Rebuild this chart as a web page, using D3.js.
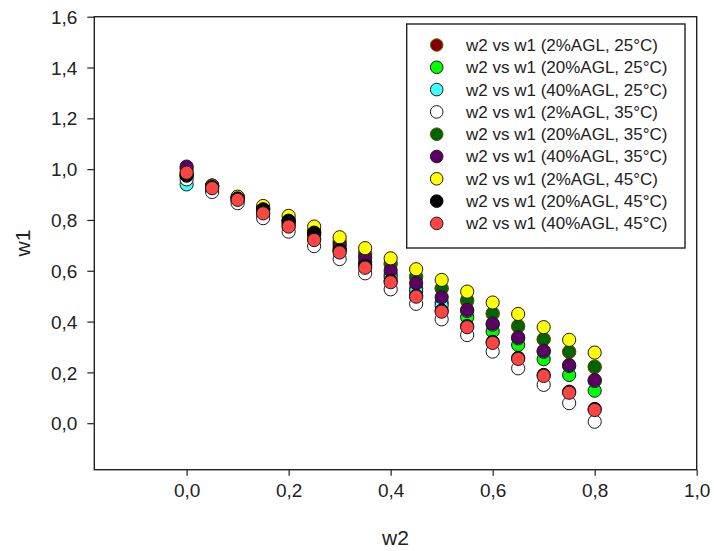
<!DOCTYPE html>
<html>
<head>
<meta charset="utf-8">
<script src="https://cdn.jsdelivr.net/npm/d3@7"></script>
<style>
  html, body { margin: 0; padding: 0; background: #fff; }
  svg { display: block; font-family: "Liberation Sans", Arial, sans-serif; }
</style>
</head>
<body>
<svg id="chart" width="714" height="551"></svg>
<script>
// w2 values shared by every series
const w2 = [0, 0.05, 0.10, 0.15, 0.20, 0.25, 0.30, 0.35, 0.40, 0.45, 0.50, 0.55, 0.60, 0.65, 0.70, 0.75, 0.80];

// w1 values per series
const agl2_25  = [1.000, 0.935, 0.890, 0.845, 0.795, 0.750, 0.710, 0.665, 0.625, 0.575, 0.530, 0.480, 0.430, 0.380, 0.330, 0.280, 0.220];
const agl20_25 = [0.975, 0.930, 0.882, 0.835, 0.785, 0.740, 0.690, 0.635, 0.585, 0.530, 0.475, 0.417, 0.362, 0.308, 0.252, 0.190, 0.128];
const agl40_25 = [0.940, 0.920, 0.875, 0.825, 0.775, 0.725, 0.680, 0.625, 0.575, 0.520, 0.463, 0.442, 0.388, 0.334, 0.281, 0.225, 0.166];
const agl2_35  = [0.960, 0.910, 0.866, 0.807, 0.754, 0.697, 0.646, 0.590, 0.527, 0.470, 0.409, 0.347, 0.282, 0.216, 0.151, 0.079, 0.006];
const agl20_35 = [0.985, 0.935, 0.890, 0.845, 0.800, 0.755, 0.715, 0.670, 0.630, 0.577, 0.531, 0.485, 0.433, 0.383, 0.331, 0.282, 0.223];
const agl40_35 = [1.010, 0.935, 0.888, 0.840, 0.790, 0.745, 0.702, 0.652, 0.601, 0.551, 0.496, 0.446, 0.392, 0.338, 0.285, 0.229, 0.170];
const agl2_45  = [0.975, 0.935, 0.892, 0.855, 0.816, 0.774, 0.732, 0.689, 0.649, 0.606, 0.564, 0.518, 0.475, 0.430, 0.378, 0.328, 0.278];
const agl20_45 = [0.975, 0.930, 0.885, 0.842, 0.797, 0.750, 0.680, 0.620, 0.560, 0.502, 0.443, 0.382, 0.320, 0.257, 0.190, 0.124, 0.056];
const agl40_45 = [0.986, 0.925, 0.879, 0.826, 0.774, 0.721, 0.672, 0.612, 0.555, 0.498, 0.439, 0.378, 0.316, 0.253, 0.186, 0.120, 0.052];

const seriesNames = [
  "w2 vs w1 (2%AGL, 25°C)",
  "w2 vs w1 (20%AGL, 25°C)",
  "w2 vs w1 (40%AGL, 25°C)",
  "w2 vs w1 (2%AGL, 35°C)",
  "w2 vs w1 (20%AGL, 35°C)",
  "w2 vs w1 (40%AGL, 35°C)",
  "w2 vs w1 (2%AGL, 45°C)",
  "w2 vs w1 (20%AGL, 45°C)",
  "w2 vs w1 (40%AGL, 45°C)"
];
const seriesValues = [agl2_25, agl20_25, agl40_25, agl2_35, agl20_35, agl40_35, agl2_45, agl20_45, agl40_45];
const fillColors   = ["#800000", "#00ff00", "#40ffff", "#ffffff", "#006400", "#5c0066", "#ffff00", "#000000", "#ff4444"];
const strokeColors = ["#7a6a00", "#1a1a1a", "#1a1a1a", "#1a1a1a", "#5a5000", "#1a1a1a", "#1a1a1a", "#000000", "#1a1a1a"];

const xTicks = [0, 0.2, 0.4, 0.6, 0.8, 1.0];
const yTicks = [0, 0.2, 0.4, 0.6, 0.8, 1.0, 1.2, 1.4, 1.6];

const svg = d3.select("#chart");
const plotLeft = 94.3, plotRight = 696.7, plotTop = 16.7, plotBottom = 469.7;

const x = d3.scaleLinear().domain([-0.181, 1.0]).range([plotLeft, plotRight]);
const y = d3.scaleLinear().domain([-0.183, 1.6]).range([plotBottom, plotTop]);
const fmt = d => d3.format(".1f")(d).replace(".", ",");

// x axis
const gx = svg.append("g")
  .attr("transform", `translate(0,${plotBottom})`)
  .call(d3.axisBottom(x).tickValues(xTicks).tickFormat(fmt).tickSize(6).tickSizeOuter(0));
gx.select(".domain").remove();
gx.selectAll(".tick line").attr("stroke", "#222").attr("stroke-width", 1.2);
gx.selectAll(".tick text")
  .attr("y", 14).attr("dy", "0.71em")
  .attr("font-size", 19).attr("fill", "#222")
  .attr("font-family", "Liberation Sans, Arial, sans-serif");

// y axis
const gy = svg.append("g")
  .attr("transform", `translate(${plotLeft},0)`)
  .call(d3.axisLeft(y).tickValues(yTicks).tickFormat(fmt).tickSize(7).tickSizeOuter(0));
gy.select(".domain").remove();
gy.selectAll(".tick line").attr("stroke", "#222").attr("stroke-width", 1.2);
gy.selectAll(".tick text")
  .attr("x", -17).attr("dy", "0.35em")
  .attr("font-size", 19).attr("fill", "#222")
  .attr("font-family", "Liberation Sans, Arial, sans-serif");

// plot frame
svg.append("rect")
  .attr("x", plotLeft).attr("y", plotTop)
  .attr("width", plotRight - plotLeft).attr("height", plotBottom - plotTop)
  .attr("fill", "none").attr("stroke", "#222").attr("stroke-width", 1.4);

// axis titles
svg.append("text")
  .attr("x", (plotLeft + plotRight) / 2).attr("y", 545)
  .attr("text-anchor", "middle").attr("font-size", 21).attr("fill", "#222")
  .text("w2");
svg.append("text")
  .attr("transform", `translate(30,243) rotate(-90)`)
  .attr("text-anchor", "middle").attr("font-size", 21).attr("fill", "#222")
  .text("w1");

// scatter markers, one group per series
seriesValues.forEach((vals, i) => {
  svg.append("g")
    .selectAll("circle")
    .data(w2.map((d, j) => [d, vals[j]]))
    .join("circle")
    .attr("cx", d => x(d[0]))
    .attr("cy", d => y(d[1]))
    .attr("r", 6.6)
    .attr("fill", fillColors[i])
    .attr("stroke", strokeColors[i])
    .attr("stroke-width", 1);
});

// legend
const lg = svg.append("g");
lg.append("rect")
  .attr("x", 406.7).attr("y", 24)
  .attr("width", 685 - 406.7).attr("height", 248 - 24)
  .attr("fill", "#fff").attr("stroke", "#222").attr("stroke-width", 1.4);
seriesNames.forEach((name, i) => {
  const cy = 45 + i * 22.3;
  lg.append("circle")
    .attr("cx", 436.7).attr("cy", cy).attr("r", 6.3)
    .attr("fill", fillColors[i]).attr("stroke", strokeColors[i]).attr("stroke-width", 1);
  lg.append("text")
    .attr("x", 466).attr("y", cy).attr("dy", "0.35em")
    .attr("font-size", 17).attr("fill", "#222")
    .text(name);
});
</script>
</body>
</html>
